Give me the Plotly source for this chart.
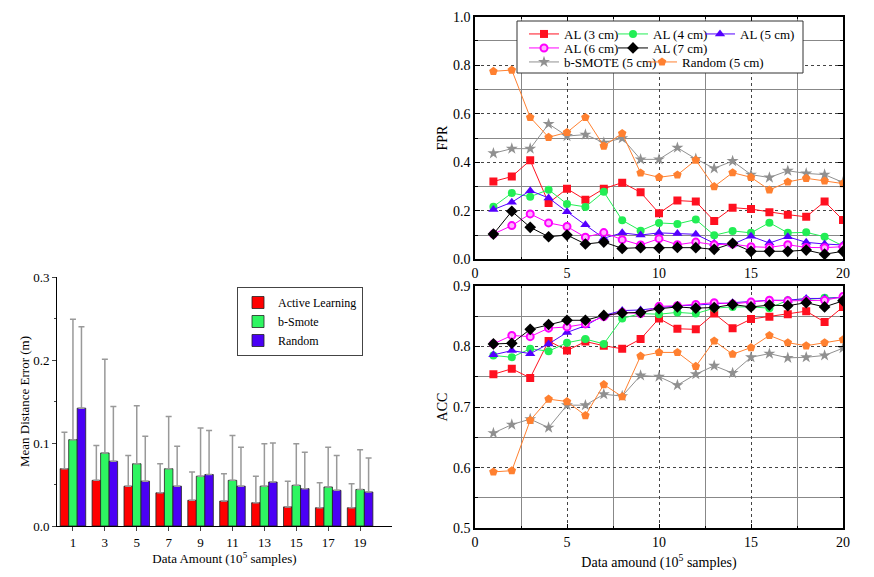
import plotly.graph_objects as go

W, H = 874, 577
OFF = 8  # page body margin of the html page
FONT = "Liberation Serif, Times New Roman, serif"

# ---------------- Left chart data ----------------
bar_x = [1, 3, 5, 7, 9, 11, 13, 15, 17, 19]
al_mean = [0.069, 0.055, 0.048, 0.040, 0.031, 0.030, 0.028, 0.023, 0.022, 0.022]
al_err = [0.044, 0.042, 0.037, 0.035, 0.034, 0.033, 0.032, 0.031, 0.030, 0.029]
bs_mean = [0.104, 0.088, 0.075, 0.069, 0.060, 0.055, 0.048, 0.049, 0.047, 0.044]
bs_err = [0.145, 0.113, 0.070, 0.063, 0.058, 0.054, 0.051, 0.050, 0.048, 0.048]
rd_mean = [0.142, 0.078, 0.054, 0.048, 0.062, 0.048, 0.053, 0.045, 0.043, 0.041]
rd_err = [0.098, 0.066, 0.054, 0.048, 0.053, 0.047, 0.047, 0.044, 0.042, 0.041]

# ---------------- Right charts data ----------------
x20 = list(range(1, 21))
fpr_al3 = [0.321, 0.341, 0.408, 0.232, 0.291, 0.245, 0.291, 0.316, 0.276, 0.190,
           0.242, 0.238, 0.158, 0.213, 0.207, 0.194, 0.184, 0.175, 0.238, 0.162]
fpr_al4 = [0.217, 0.273, 0.258, 0.287, 0.228, 0.216, 0.278, 0.161, 0.118, 0.150,
           0.146, 0.164, 0.099, 0.117, 0.109, 0.151, 0.109, 0.111, 0.093, 0.055]
fpr_al5 = [0.205, 0.235, 0.283, 0.253, 0.196, 0.142, 0.087, 0.109, 0.100, 0.109,
           0.106, 0.103, 0.066, 0.062, 0.095, 0.067, 0.093, 0.070, 0.063, 0.059]
fpr_al6 = [0.104, 0.139, 0.187, 0.150, 0.135, 0.091, 0.110, 0.081, 0.059, 0.085,
           0.060, 0.071, 0.060, 0.063, 0.052, 0.049, 0.060, 0.049, 0.048, 0.052]
fpr_al7 = [0.104, 0.198, 0.132, 0.093, 0.100, 0.063, 0.071, 0.045, 0.048, 0.047,
           0.049, 0.048, 0.041, 0.066, 0.033, 0.033, 0.033, 0.038, 0.021, 0.033]
fpr_bsm = [0.437, 0.456, 0.456, 0.558, 0.508, 0.514, 0.481, 0.499, 0.412, 0.412,
           0.460, 0.414, 0.375, 0.405, 0.349, 0.337, 0.365, 0.354, 0.349, 0.317]
fpr_rnd = [0.775, 0.780, 0.585, 0.503, 0.523, 0.585, 0.467, 0.519, 0.356, 0.338,
           0.348, 0.409, 0.300, 0.357, 0.338, 0.286, 0.319, 0.334, 0.323, 0.312]

acc_al3 = [0.754, 0.763, 0.748, 0.809, 0.793, 0.808, 0.801, 0.796, 0.812, 0.846,
           0.829, 0.828, 0.854, 0.830, 0.845, 0.849, 0.853, 0.858, 0.840, 0.865]
acc_al4 = [0.785, 0.782, 0.796, 0.792, 0.806, 0.812, 0.804, 0.846, 0.854, 0.853,
           0.856, 0.854, 0.863, 0.865, 0.865, 0.863, 0.876, 0.877, 0.880, 0.880]
acc_al5 = [0.786, 0.793, 0.788, 0.804, 0.823, 0.834, 0.851, 0.859, 0.860, 0.864,
           0.867, 0.868, 0.870, 0.872, 0.873, 0.876, 0.876, 0.879, 0.879, 0.881]
acc_al6 = [0.804, 0.818, 0.816, 0.830, 0.832, 0.837, 0.849, 0.856, 0.854, 0.866,
           0.867, 0.869, 0.872, 0.870, 0.873, 0.876, 0.875, 0.875, 0.876, 0.882]
acc_al7 = [0.804, 0.805, 0.828, 0.836, 0.843, 0.843, 0.851, 0.855, 0.856, 0.862,
           0.865, 0.863, 0.864, 0.869, 0.865, 0.868, 0.867, 0.872, 0.865, 0.875]
acc_bsm = [0.657, 0.671, 0.680, 0.666, 0.703, 0.703, 0.721, 0.718, 0.752, 0.750,
           0.736, 0.754, 0.768, 0.756, 0.782, 0.788, 0.781, 0.782, 0.785, 0.797]
acc_rnd = [0.593, 0.595, 0.678, 0.713, 0.709, 0.686, 0.737, 0.717, 0.784, 0.790,
           0.790, 0.767, 0.809, 0.787, 0.798, 0.818, 0.806, 0.801, 0.806, 0.811]

# name, fpr, acc, colour, marker, legend id
series = [
    ("AL (3 cm)", fpr_al3, acc_al3, "#FF1020", dict(symbol="square", size=8, color="#FF1020"), "legend2"),
    ("AL (4 cm)", fpr_al4, acc_al4, "#22EE55", dict(symbol="circle", size=8, color="#22EE55"), "legend3"),
    ("AL (5 cm)", fpr_al5, acc_al5, "#5500FF", dict(symbol="triangle-up", size=9, color="#5500FF"), "legend4"),
    ("AL (6 cm)", fpr_al6, acc_al6, "#FF00FF", dict(symbol="circle", size=7, color="#FFB0FF",
                                                    line=dict(color="#FF00FF", width=2)), "legend5"),
    ("AL (7 cm)", fpr_al7, acc_al7, "#000000", dict(symbol="diamond", size=9, color="#000000"), "legend6"),
    ("b-SMOTE (5 cm)", fpr_bsm, acc_bsm, "#909090", dict(symbol="star", size=9, color="#909090"), "legend7"),
    ("Random (5 cm)", fpr_rnd, acc_rnd, "#FF8030", dict(symbol="pentagon", size=9, color="#FF8030"), "legend8"),
]
# legend entry placement (text start x, row centre y) in page pixels
legend_pos = {"legend2": (564, 34), "legend3": (653, 34), "legend4": (740, 34),
              "legend5": (564, 48), "legend6": (653, 48),
              "legend7": (564, 62), "legend8": (682, 62)}

fig = go.Figure()

# Left bar chart
for name, m, e, c in [("Active Learning", al_mean, al_err, "#FF0000"),
                      ("b-Smote", bs_mean, bs_err, "#2EF561"),
                      ("Random", rd_mean, rd_err, "#4A00F5")]:
    fig.add_trace(go.Bar(
        x=bar_x, y=m, name=name, marker=dict(color=c, line=dict(color="#222", width=0.8)),
        error_y=dict(type="data", array=e, arrayminus=[0] * len(e), symmetric=False,
                     color="#999999", thickness=1.5, width=3),
        xaxis="x", yaxis="y", legend="legend"))

for name, f, a, c, mk, lg in series:
    fig.add_trace(go.Scatter(x=x20, y=f, name=name, mode="lines+markers",
                             line=dict(color=c, width=1), marker=mk,
                             xaxis="x2", yaxis="y2", legend=lg))
    fig.add_trace(go.Scatter(x=x20, y=a, name=name, mode="lines+markers",
                             line=dict(color=c, width=1), marker=mk,
                             xaxis="x3", yaxis="y3", showlegend=False))


def px_x(p):
    return (p - OFF) / W


def px_y(p):
    return 1 - (p - OFF) / H


tickfont = dict(family=FONT, size=14, color="black")
grid_common = dict(showgrid=True, gridcolor="#444", griddash="dot", gridwidth=1,
                   showline=True, linecolor="black", linewidth=1.5, mirror="allticks",
                   ticks="inside", ticklen=5, tickcolor="black", zeroline=False,
                   tickfont=tickfont, automargin=False)
minor_grid = dict(ticks="inside", ticklen=3, showgrid=True,
                  gridcolor="#888", griddash="solid", gridwidth=1)

legends = {}
for lg, (tx, ty) in legend_pos.items():
    legends[lg] = dict(x=px_x(tx - 40), y=px_y(ty), xanchor="left", yanchor="middle",
                       orientation="h", bgcolor="rgba(0,0,0,0)",
                       font=dict(family=FONT, size=13, color="black"))

fig.update_layout(
    width=W, height=H, margin=dict(l=0, r=0, t=0, b=0, autoexpand=False),
    paper_bgcolor="white", plot_bgcolor="white",
    barmode="group", bargap=0.2, bargroupgap=0,
    font=dict(family=FONT, color="black"),
    xaxis=dict(domain=[px_x(57), px_x(392)], range=[0, 21], tickvals=bar_x,
               showline=True, linecolor="black", linewidth=1, ticks="outside", ticklen=4,
               showgrid=False, zeroline=False, tickfont=dict(family=FONT, size=13),
               title=dict(text="Data Amount (10<sup>5</sup> samples)", font=dict(family=FONT, size=13),
                          standoff=2),
               anchor="y", automargin=False),
    yaxis=dict(domain=[px_y(526), px_y(277)], range=[0, 0.3], dtick=0.1, tickformat=".1f",
               showline=True, linecolor="black", linewidth=1, ticks="outside", ticklen=4,
               minor=dict(dtick=0.05, ticks="outside", ticklen=2),
               showgrid=False, zeroline=False, tickfont=dict(family=FONT, size=13),
               title=dict(text="Mean Distance Error (m)", font=dict(family=FONT, size=13), standoff=0),
               anchor="x", automargin=False),
    xaxis2=dict(domain=[px_x(475), px_x(843)], range=[0, 20], dtick=5,
                minor=dict(dtick=2.5, **minor_grid),
                anchor="y2", **grid_common),
    yaxis2=dict(domain=[px_y(259.3), px_y(16.7)], range=[0, 1.0], dtick=0.2, tickformat=".1f",
                minor=dict(dtick=0.1, **minor_grid),
                title=dict(text="FPR", font=dict(family=FONT, size=14), standoff=2),
                anchor="x2", **grid_common),
    xaxis3=dict(domain=[px_x(475), px_x(843)], range=[0, 20], dtick=5,
                minor=dict(dtick=2.5, **minor_grid),
                title=dict(text="Data amound (10<sup>5</sup> samples)", font=dict(family=FONT, size=14),
                           standoff=8),
                anchor="y3", **grid_common),
    yaxis3=dict(domain=[px_y(528.3), px_y(285.7)], range=[0.5, 0.9], dtick=0.1, tickformat=".1f",
                minor=dict(dtick=0.05, **minor_grid),
                title=dict(text="ACC", font=dict(family=FONT, size=14), standoff=2),
                anchor="x3", **grid_common),
    legend=dict(x=px_x(237), y=px_y(287), xanchor="left", yanchor="top",
                bordercolor="#444", borderwidth=1, bgcolor="white",
                font=dict(family=FONT, size=12, color="black"), tracegroupgap=0),
    shapes=[dict(type="rect", xref="paper", yref="paper",
                 x0=px_x(517), x1=px_x(803), y0=px_y(73), y1=px_y(21),
                 fillcolor="white", line=dict(color="#333", width=1), layer="above")],
    **legends,
)

fig.write_html("out.html")
